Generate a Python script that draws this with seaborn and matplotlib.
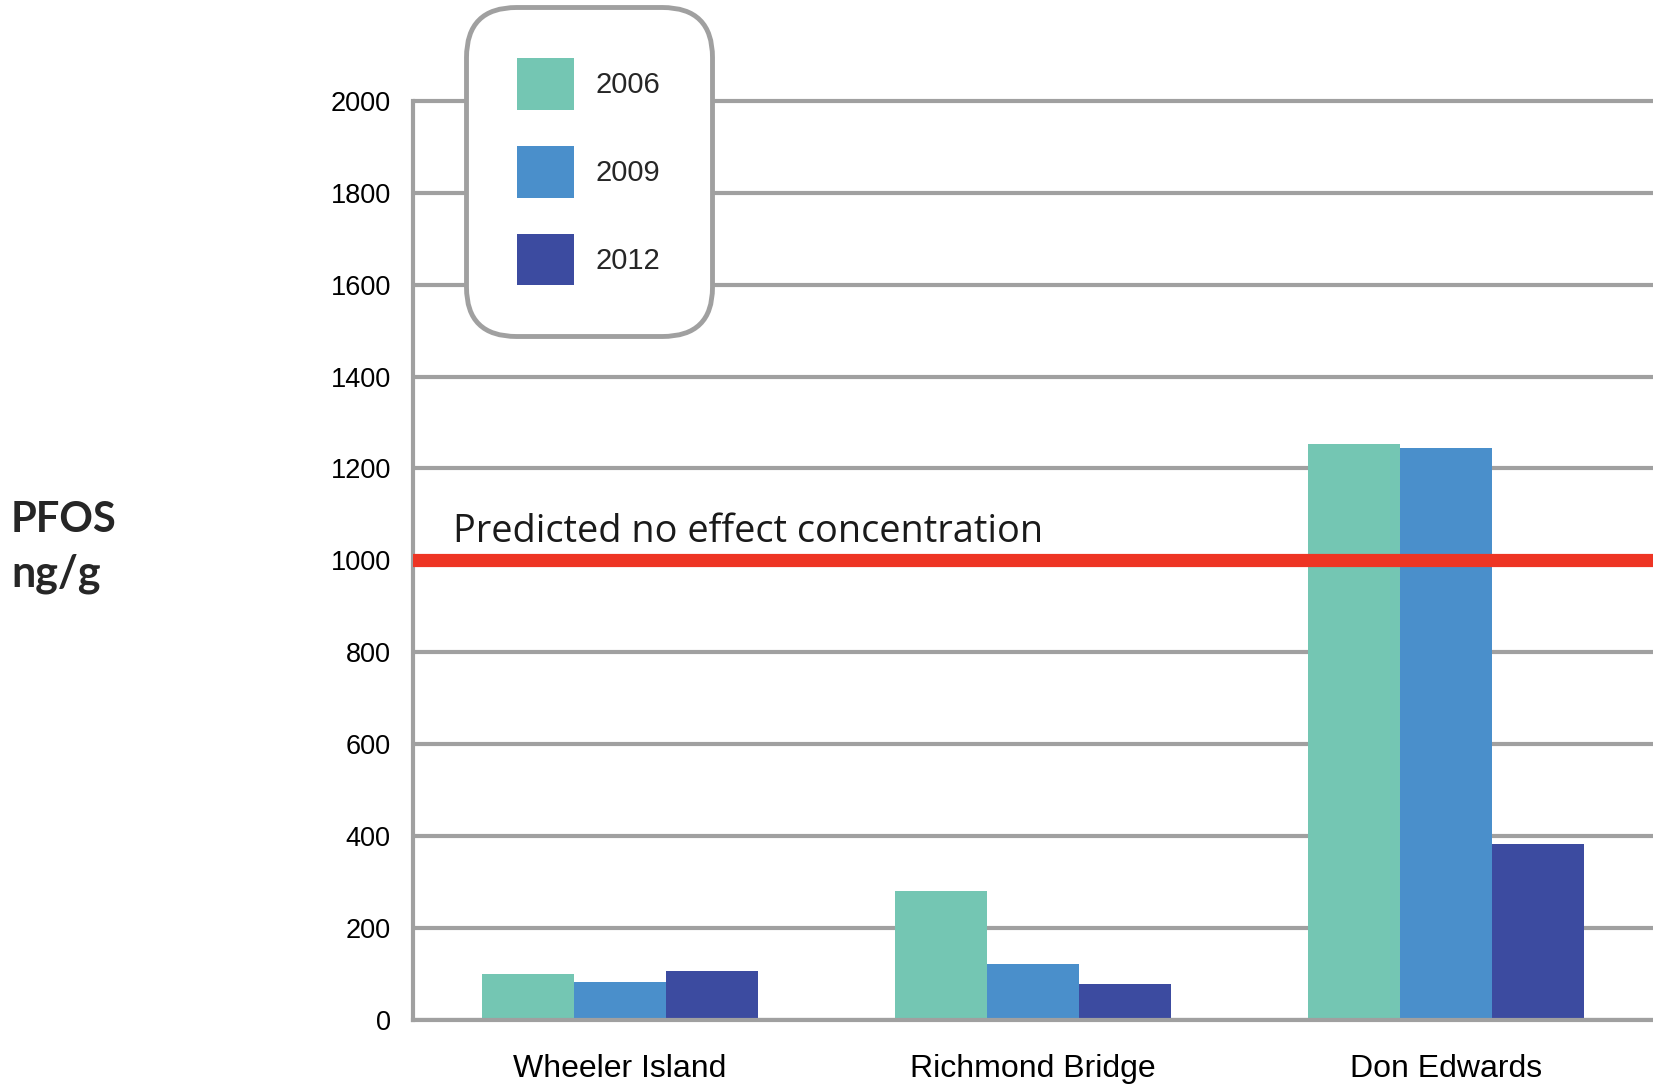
import pandas as pd
import matplotlib
matplotlib.use("Agg")
import matplotlib.pyplot as plt
import seaborn as sns

# values (PFOS, ng/g)
sites = ["Wheeler Island", "Richmond Bridge", "Don Edwards"]
years = ["2006", "2009", "2012"]
pfos_2006 = [100, 280, 1253]
pfos_2009 = [81, 120, 1244]
pfos_2012 = [105, 78, 383]
threshold = 1000
y_ticks = [0, 200, 400, 600, 800, 1000, 1200, 1400, 1600, 1800, 2000]

colors = ["#74C6B3", "#4A8FCB", "#3C4BA0"]
grid_gray = "#A0A0A0"

rows = []
for yr, vals in zip(years, [pfos_2006, pfos_2009, pfos_2012]):
    for s, v in zip(sites, vals):
        rows.append({"site": s, "year": yr, "pfos": v})
df = pd.DataFrame(rows)

sns.set_style("white")
narrow = ["Liberation Sans Narrow", "Liberation Sans", "DejaVu Sans"]
plt.rcParams["font.family"] = narrow

W, H = 1653, 1087
fig = plt.figure(figsize=(W / 100, H / 100), dpi=100)
ax_left, ax_right = 413 / W, 1.0
ax_bot, ax_top = 1 - 1019.5 / H, 1 - 96.4 / H
ax = fig.add_axes([ax_left, ax_bot, ax_right - ax_left, ax_top - ax_bot])

sns.barplot(data=df, x="site", y="pfos", hue="year", order=sites, hue_order=years,
            palette=colors, saturation=1, width=0.667, linewidth=0, ax=ax, zorder=2)

ax.set_xlim(-0.5, 2.5)
ax.set_ylim(0, 2010)
ax.set_yticks(y_ticks)
ax.set_yticklabels([str(t) for t in y_ticks])
ax.set_axisbelow(True)
ax.yaxis.grid(True, color=grid_gray, linewidth=3)
ax.xaxis.grid(False)

for side in ["top", "right"]:
    ax.spines[side].set_visible(False)
for side in ["left", "bottom"]:
    ax.spines[side].set_color(grid_gray)
    ax.spines[side].set_linewidth(3)
ax.spines["left"].set_bounds(0, 2000)

ax.tick_params(axis="y", length=0, pad=16, labelsize=19.5, labelcolor="black")
ax.tick_params(axis="x", which="major", length=0, pad=25, labelsize=23, labelcolor="black")
ax.set_xticks([-0.5, 0.5, 1.5, 2.5], minor=True)
ax.tick_params(axis="x", which="minor", length=6, width=3, color=grid_gray, direction="out")
ax.set_xlabel("")
ax.set_ylabel("")

# predicted no effect concentration line
ax.axhline(threshold, color="#EE3524", linewidth=9.5, zorder=3)
ax.text(0.0 - 0.5 + 40 / 413.3, 1040, "Predicted no effect concentration",
        fontsize=27.3, family=["Open Sans", "DejaVu Sans"], color="#1a1a1a",
        va="baseline", ha="left")

# legend box
handles, labels = ax.get_legend_handles_labels()
leg = ax.legend(handles, labels, loc="upper left",
                bbox_to_anchor=(466 / W, 1 - 7 / H), bbox_transform=fig.transFigure,
                borderaxespad=0, fontsize=21, handlelength=1.95, handleheight=2.36,
                labelspacing=1.23, handletextpad=0.75, borderpad=1.75,
                frameon=True, fancybox=True, framealpha=1)
frame = leg.get_frame()
frame.set_boxstyle("round", pad=0, rounding_size=1.7)
frame.set_edgecolor(grid_gray)
frame.set_linewidth(3.5)
frame.set_facecolor("white")
leg.set_clip_on(False)

# y axis title
fig.text(11 / W, 1 - 532 / H, "PFOS", fontsize=30, fontweight="bold",
         family=["Lato", "DejaVu Sans"], va="baseline", ha="left")
fig.text(11 / W, 1 - 586 / H, "ng/g", fontsize=31, fontweight="bold",
         family=["Lato", "DejaVu Sans"], va="baseline", ha="left")

fig.savefig("out.png", dpi=100)
